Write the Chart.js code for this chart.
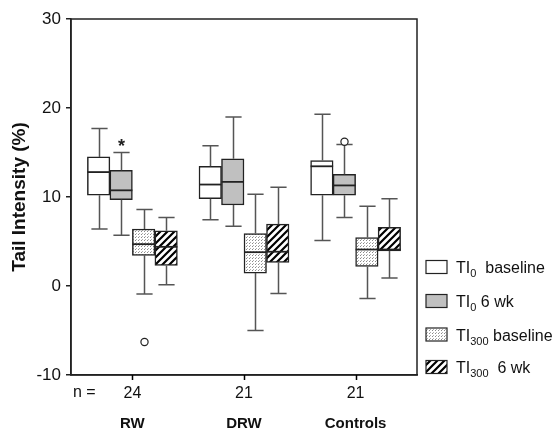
<!DOCTYPE html>
<html>
<head>
<meta charset="utf-8">
<script src="https://cdn.jsdelivr.net/npm/chart.js@4/dist/chart.umd.min.js"></script>
<style>
  html, body { margin: 0; padding: 0; background: #fff; }
  #wrap { width: 559px; height: 429px; position: relative; }
</style>
</head>
<body>
<div id="wrap"><canvas id="myChart" width="559" height="429"></canvas></div>
<script>
const groups = ['RW', 'DRW', 'Controls'];
const nCounts = ['24', '21', '21'];
const seriesNames = [['TI', '0', '  baseline'], ['TI', '0', ' 6 wk'], ['TI', '300', ' baseline'], ['TI', '300', '  6 wk']];

// box values per group: RW, DRW, Controls
const ti0BaseMin = [6.4, 7.45, 5.1];
const ti0BaseQ1 = [10.2, 9.8, 10.2];
const ti0BaseMed = [12.8, 11.4, 13.45];
const ti0BaseQ3 = [14.5, 13.45, 14.1];
const ti0BaseMax = [17.7, 15.75, 19.3];

const ti0WkMin = [5.7, 6.7, 7.7];
const ti0WkQ1 = [9.7, 9.1, 10.2];
const ti0WkMed = [10.75, 11.7, 11.3];
const ti0WkQ3 = [13.0, 14.3, 12.55];
const ti0WkMax = [15.0, 19.0, 15.9];

const ti300BaseMin = [-0.9, -5.0, -1.4];
const ti300BaseQ1 = [3.45, 1.45, 2.2];
const ti300BaseMed = [4.7, 3.8, 4.1];
const ti300BaseQ3 = [6.4, 5.9, 5.45];
const ti300BaseMax = [8.6, 10.3, 8.95];

const ti300WkMin = [0.15, -0.85, 0.9];
const ti300WkQ1 = [2.3, 2.65, 3.95];
const ti300WkMed = [4.4, 3.85, 4.1];
const ti300WkQ3 = [6.2, 6.95, 6.6];
const ti300WkMax = [7.7, 11.1, 9.8];

// outliers (circles) and extremes (asterisks)
const ti0WkOutlier = [null, null, 16.2];
const ti0WkExtreme = [16.1, null, null];
const ti300BaseOutlier = [-6.3, null, null];

const yTicks = [-10, 0, 10, 20, 30];

const FONT = '"Liberation Sans", Arial, sans-serif';

function makeDots() {
    const c = document.createElement('canvas');
    c.width = 3; c.height = 3;
    const g = c.getContext('2d');
    g.fillStyle = '#fff';
    g.fillRect(0, 0, 3, 3);
    g.fillStyle = '#8a8a8a';
    g.fillRect(0, 0, 1, 1);
    g.fillStyle = '#b0b0b0';
    g.fillRect(1, 2, 1, 1);
    return g.createPattern(c, 'repeat');
}
function makeHatch() {
    const s = 7;
    const c = document.createElement('canvas');
    c.width = s; c.height = s;
    const g = c.getContext('2d');
    g.fillStyle = '#fff';
    g.fillRect(0, 0, s, s);
    g.strokeStyle = '#000';
    g.lineWidth = 2.2;
    g.beginPath();
    g.moveTo(-1, 1); g.lineTo(1, -1);
    g.moveTo(0, s); g.lineTo(s, 0);
    g.moveTo(s - 1, s + 1); g.lineTo(s + 1, s - 1);
    g.stroke();
    return g.createPattern(c, 'repeat');
}

const fills = ['#ffffff', '#c0c0c0', makeDots(), makeHatch()];

const boxStats = [
    { min: ti0BaseMin, q1: ti0BaseQ1, med: ti0BaseMed, q3: ti0BaseQ3, max: ti0BaseMax, out: [null, null, null], ext: [null, null, null] },
    { min: ti0WkMin, q1: ti0WkQ1, med: ti0WkMed, q3: ti0WkQ3, max: ti0WkMax, out: ti0WkOutlier, ext: ti0WkExtreme },
    { min: ti300BaseMin, q1: ti300BaseQ1, med: ti300BaseMed, q3: ti300BaseQ3, max: ti300BaseMax, out: ti300BaseOutlier, ext: [null, null, null] },
    { min: ti300WkMin, q1: ti300WkQ1, med: ti300WkMed, q3: ti300WkQ3, max: ti300WkMax, out: [null, null, null], ext: [null, null, null] }
];

const datasets = boxStats.map(function (b, k) {
    return {
        label: seriesNames[k].join(''),
        data: groups.map(function (g, i) { return { x: i + 1, y: [b.q1[i], b.q3[i]] }; }),
        backgroundColor: fills[k],
        borderColor: '#222',
        borderWidth: 1.5,
        borderSkipped: false,
        barThickness: 22.5
    };
});

const boxPlugin = {
    id: 'boxExtras',
    afterDatasetsDraw(chart) {
        const ctx = chart.ctx;
        const y = chart.scales.y;
        ctx.save();
        boxStats.forEach(function (b, k) {
            const meta = chart.getDatasetMeta(k);
            meta.data.forEach(function (bar, i) {
                const p = bar.getProps(['x', 'width', 'base', 'y'], true);
                const x = Math.round(p.x) + 0.5;
                const half = p.width / 2;
                const cap = p.width * 0.36;
                const yq1 = y.getPixelForValue(b.q1[i]);
                const yq3 = y.getPixelForValue(b.q3[i]);
                const ymin = y.getPixelForValue(b.min[i]);
                const ymax = y.getPixelForValue(b.max[i]);
                const ymed = y.getPixelForValue(b.med[i]);
                // whiskers
                ctx.strokeStyle = '#555';
                ctx.lineWidth = 1.5;
                ctx.beginPath();
                ctx.moveTo(x, yq3); ctx.lineTo(x, ymax);
                ctx.moveTo(x - cap, ymax); ctx.lineTo(x + cap, ymax);
                ctx.moveTo(x, yq1); ctx.lineTo(x, ymin);
                ctx.moveTo(x - cap, ymin); ctx.lineTo(x + cap, ymin);
                ctx.stroke();
                // median
                ctx.strokeStyle = '#222';
                ctx.lineWidth = 1.8;
                ctx.beginPath();
                ctx.moveTo(p.x - half, ymed); ctx.lineTo(p.x + half, ymed);
                ctx.stroke();
                // outliers
                if (b.out[i] !== null) {
                    ctx.lineWidth = 1.2;
                    ctx.strokeStyle = '#222';
                    ctx.fillStyle = '#fff';
                    ctx.beginPath();
                    ctx.arc(x, y.getPixelForValue(b.out[i]), 3.6, 0, Math.PI * 2);
                    ctx.fill();
                    ctx.stroke();
                }
                if (b.ext[i] !== null) {
                    ctx.fillStyle = '#222';
                    ctx.font = 'bold 18px ' + FONT;
                    ctx.textAlign = 'center';
                    ctx.textBaseline = 'middle';
                    ctx.fillText('*', x, y.getPixelForValue(b.ext[i]) + 4);
                }
            });
        });

        // frame round the plot
        const a = chart.chartArea;
        ctx.strokeStyle = '#222';
        ctx.lineWidth = 1.5;
        ctx.strokeRect(a.left, a.top, a.right - a.left, a.bottom - a.top);

        // tick marks under the x axis, n = and group names
        const xs = chart.scales.x;
        ctx.strokeStyle = '#000';
        ctx.beginPath();
        groups.forEach(function (g, i) {
            const tx = Math.round(xs.getPixelForValue(i + 1)) + 0.5;
            ctx.moveTo(tx, a.bottom);
            ctx.lineTo(tx, a.bottom + 5);
        });
        ctx.stroke();
        ctx.fillStyle = '#111';
        ctx.font = '16px ' + FONT;
        ctx.textAlign = 'left';
        ctx.textBaseline = 'alphabetic';
        ctx.fillText('n =', 73, 397);
        ctx.font = 'bold 15px ' + FONT;
        ctx.textAlign = 'center';
        groups.forEach(function (g, i) {
            ctx.fillText(g, xs.getPixelForValue(i + 1), 428);
        });

        // legend
        const rows = [267, 301, 334.5, 367];
        seriesNames.forEach(function (s, k) {
            const ry = rows[k];
            ctx.fillStyle = fills[k];
            ctx.fillRect(426, ry - 6.5, 21, 13);
            ctx.strokeStyle = '#222';
            ctx.lineWidth = 1.2;
            ctx.strokeRect(426, ry - 6.5, 21, 13);
            ctx.fillStyle = '#111';
            ctx.textAlign = 'left';
            ctx.font = '16px ' + FONT;
            let tx = 456;
            ctx.fillText(s[0], tx, ry + 6);
            tx += ctx.measureText(s[0]).width;
            ctx.font = '11px ' + FONT;
            ctx.fillText(s[1], tx, ry + 10);
            tx += ctx.measureText(s[1]).width;
            ctx.font = '16px ' + FONT;
            ctx.fillText(s[2], tx, ry + 6);
        });
        ctx.restore();
    }
};

const ctx = document.querySelector('#myChart').getContext('2d');
new Chart(ctx, {
    type: 'bar',
    data: { datasets: datasets },
    options: {
        responsive: false,
        animation: false,
        layout: { padding: { top: 19, right: 142, bottom: 0, left: 0 } },
        plugins: { legend: { display: false }, tooltip: { enabled: false } },
        scales: {
            x: {
                type: 'linear',
                min: 0.45,
                max: 3.55,
                offset: false,
                afterBuildTicks: function (s) { s.ticks = groups.map(function (g, i) { return { value: i + 1 }; }); },
                afterFit: function (s) { s.height = 54; },
                grid: { display: false },
                border: { display: true, color: '#222', width: 1.5 },
                ticks: {
                    padding: 1,
                    color: '#111',
                    autoSkip: false,
                    font: { family: FONT, size: 16 },
                    callback: function (v) { return nCounts[Math.round(v) - 1]; }
                }
            },
            y: {
                min: -10,
                max: 30,
                afterBuildTicks: function (s) { s.ticks = yTicks.map(function (v) { return { value: v }; }); },
                afterFit: function (s) { s.width = 71; },
                grid: { display: true, drawOnChartArea: false, drawTicks: true, tickLength: 5, color: '#222', lineWidth: 1.5 },
                border: { display: true, color: '#222', width: 1.5 },
                ticks: {
                    padding: 5,
                    color: '#111',
                    font: { family: FONT, size: 17 }
                },
                title: {
                    display: true,
                    text: 'Tail Intensity (%)',
                    color: '#111',
                    padding: { top: 8, bottom: 0 },
                    font: { family: FONT, size: 19, weight: 'bold' }
                }
            }
        }
    },
    plugins: [boxPlugin]
});
</script>
</body>
</html>
